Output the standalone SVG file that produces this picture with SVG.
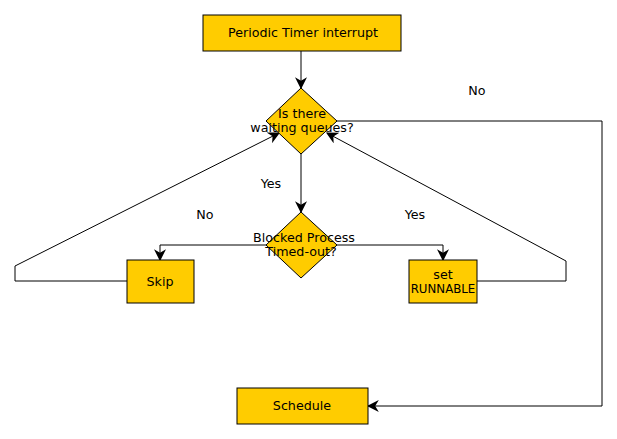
<svg xmlns="http://www.w3.org/2000/svg" width="617" height="439" viewBox="0 0 617 439">
<defs>
<style>
.n{fill:#FFCC00;stroke:#000;stroke-width:1}
.t{font-family:"DejaVu Sans",sans-serif;font-size:12.7px;fill:#000;text-anchor:middle}
.c{fill:none;stroke:#000;stroke-width:1}
</style>
<marker id="a" markerWidth="12" markerHeight="12" refX="9" refY="5" orient="auto" markerUnits="userSpaceOnUse" viewBox="0 0 10 10">
<path d="M0,0 L10,5 L0,10 L3,5 Z" fill="#000"/>
</marker>
</defs>
<rect width="617" height="439" fill="#fff"/>
<g id="connectors">
<line class="c" x1="301" y1="51" x2="301" y2="88" marker-end="url(#a)"/>
<polyline class="c" points="337,121 602,121 602,406 368,406" marker-end="url(#a)"/>
<line class="c" x1="301" y1="154" x2="301" y2="212" marker-end="url(#a)"/>
<polyline class="c" points="266,245 160,245 160,260" marker-end="url(#a)"/>
<polyline class="c" points="337,245 443,245 443,260" marker-end="url(#a)"/>
<polyline class="c" points="127,281 15,281 15,266 279,133" marker-end="url(#a)"/>
<polyline class="c" points="477,281 566,281 566,261 327,133" marker-end="url(#a)"/>
<text class="t" x="477" y="95">No</text>
<text class="t" x="271" y="188">Yes</text>
<text class="t" x="205" y="219">No</text>
<text class="t" x="415" y="219">Yes</text>
</g>
<g id="timer">
<rect class="n" x="203" y="15" width="198" height="36"/>
<text class="t" x="303" y="37">Periodic Timer interrupt</text>
</g>
<g id="waiting">
<polygon class="n" points="301,88 337,121 301,154 266,121"/>
<text class="t" x="302" y="118">Is there</text>
<text class="t" x="302" y="132">waiting queues?</text>
</g>
<g id="blocked">
<polygon class="n" points="301,212 337,245 301,278 266,245"/>
<text class="t" x="304" y="242">Blocked Process</text>
<text class="t" x="301" y="256">Timed-out?</text>
</g>
<g id="skip">
<rect class="n" x="127" y="260" width="67" height="43"/>
<text class="t" x="160" y="286">Skip</text>
</g>
<g id="runnable">
<rect class="n" x="409" y="260" width="68" height="43"/>
<text class="t" x="443" y="279">set</text>
<text class="t" x="443" y="293" style="font-size:11.8px">RUNNABLE</text>
</g>
<g id="schedule">
<rect class="n" x="237" y="388" width="131" height="36"/>
<text class="t" x="302" y="410">Schedule</text>
</g>
</svg>
